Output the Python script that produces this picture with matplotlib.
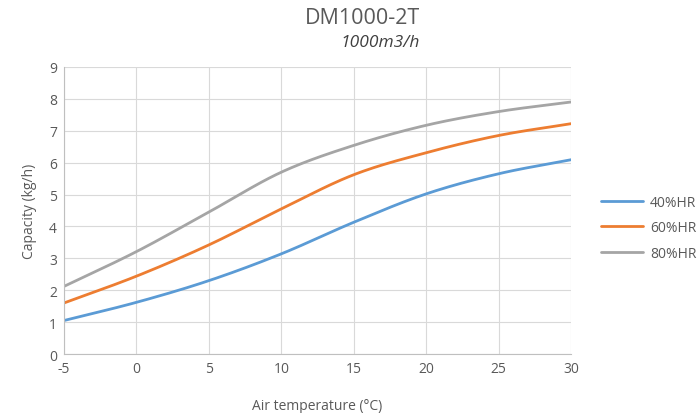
import numpy as np
import matplotlib
matplotlib.use("Agg")
import matplotlib.pyplot as plt

plt.rcParams['font.family'] = ['Open Sans', 'DejaVu Sans']
plt.rcParams['axes.unicode_minus'] = False

temps = [-5, 0, 5, 10, 15, 20, 25, 30]
hr40 = [1.05, 1.62, 2.30, 3.14, 4.13, 5.02, 5.65, 6.09]
hr60 = [1.60, 2.44, 3.42, 4.55, 5.62, 6.31, 6.85, 7.22]
hr80 = [2.12, 3.21, 4.45, 5.70, 6.54, 7.17, 7.60, 7.90]
series_names = ['40%HR', '60%HR', '80%HR']
colors = ['#5b9bd5', '#ed7d31', '#a5a5a5']


def smooth(x, y, n=30):
    # Catmull-Rom style smoothing similar to spreadsheet "smoothed line"
    x = np.asarray(x, float)
    y = np.asarray(y, float)
    px = np.concatenate([[2 * x[0] - x[1]], x, [2 * x[-1] - x[-2]]])
    py = np.concatenate([[2 * y[0] - y[1]], y, [2 * y[-1] - y[-2]]])
    xs, ys = [], []
    t = np.linspace(0, 1, n)
    for i in range(1, len(px) - 2):
        p0, p1, p2, p3 = (np.array([px[j], py[j]]) for j in (i - 1, i, i + 1, i + 2))
        b1 = p1 + (p2 - p0) / 6
        b2 = p2 - (p3 - p1) / 6
        pts = ((1 - t)[:, None] ** 3 * p1 + 3 * ((1 - t) ** 2 * t)[:, None] * b1
               + 3 * ((1 - t) * t ** 2)[:, None] * b2 + (t ** 3)[:, None] * p2)
        xs.extend(pts[:, 0])
        ys.extend(pts[:, 1])
    return np.array(xs), np.array(ys)


fig = plt.figure(figsize=(6.99, 4.14), dpi=100)
ax = fig.add_axes([0.0916, 0.1425, 0.7254, 0.6935])

for vals, name, c in zip([hr40, hr60, hr80], series_names, colors):
    sx, sy = smooth(temps, vals)
    ax.plot(sx, sy, color=c, lw=2.0, label=name, solid_capstyle='round')

ax.set_xlim(-5, 30)
ax.set_ylim(0, 9)
ax.set_xticks(temps)
ax.set_yticks(range(0, 10))
ax.grid(True, color='#d9d9d9', lw=0.8)
ax.set_axisbelow(True)
for s in ['top', 'right']:
    ax.spines[s].set_visible(False)
for s in ['left', 'bottom']:
    ax.spines[s].set_color('#bfbfbf')
    ax.spines[s].set_linewidth(0.8)
ax.tick_params(length=0, labelsize=10, colors='#595959', pad=5)

ax.set_xlabel('Air temperature (°C)', fontsize=10, color='#595959', labelpad=16)
ax.set_ylabel('Capacity (kg/h)', fontsize=10, color='#595959', labelpad=9)

fig.text(0.519, 0.955, 'DM1000-2T', ha='center', va='center', fontsize=15.5, color='#595959')
fig.text(0.544, 0.897, '1000m3/h', ha='center', va='center', fontsize=12.5,
         color='#404040', style='italic')

leg = ax.legend(loc='center left', bbox_to_anchor=(1.035, 0.44), frameon=False,
                fontsize=10, handlelength=3.0, labelspacing=0.75, handletextpad=0.5)
for t in leg.get_texts():
    t.set_color('#595959')

fig.savefig('out.png', dpi=100)
